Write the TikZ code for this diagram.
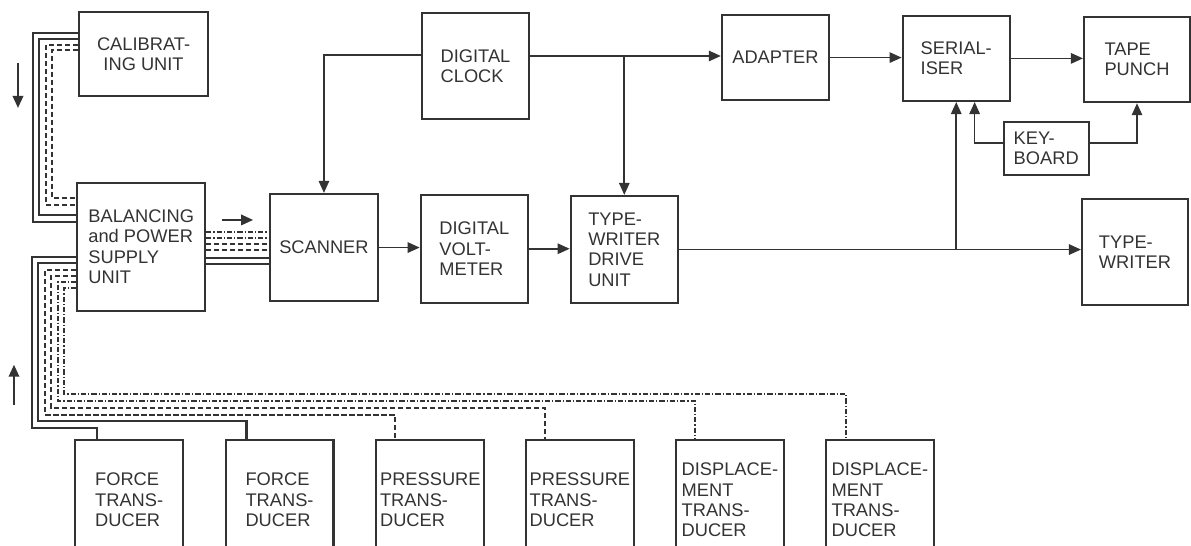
\documentclass[tikz,border=0pt]{standalone}
\usepackage{fontspec}
\setmainfont{Liberation Sans}
\usetikzlibrary{arrows.meta, calc}
\definecolor{ink}{HTML}{333333}

\begin{document}
\begin{tikzpicture}[
  >={Triangle[length=3mm, width=2.6mm]},
  blk/.style={draw=ink, line width=1.5pt, text=ink, align=left,
    font=\fontsize{13}{14.5}\selectfont, inner sep=2pt},
  arr/.style={->, line width=1.2pt, ink},
  solidbus/.style={line width=1.6pt, ink},
  dashbus/.style={line width=1.25pt, ink, dash pattern=on 1.3mm off 0.7mm},
  chainbus/.style={line width=1.25pt, ink, dash pattern=on 1.3mm off 0.5mm on 0.3mm off 0.5mm},
  hint/.style={->, line width=1.5pt, ink},
]

\useasboundingbox (0,0) rectangle (29.78,13.65);

% =============================================
% Measuring side
% =============================================
\node[blk, align=center, minimum width=3.23cm, minimum height=2.1cm] (calib) at (3.59,12.3)
  {CALIBRAT-\\ING UNIT};
\node[blk, minimum width=3.2cm, minimum height=3.2cm] (bal) at (3.53,7.48)
  {BALANCING\\and POWER\\SUPPLY\\UNIT};
\node[blk, minimum width=2.7cm, minimum height=2.68cm] (scan) at (8.1,7.46)
  {SCANNER};
\node[blk, minimum width=2.68cm, minimum height=2.7cm] (dvm) at (11.86,7.43)
  {DIGITAL\\VOLT-\\METER};
\node[blk, minimum width=2.68cm, minimum height=2.68cm] (twdu) at (15.61,7.41)
  {TYPE-\\WRITER\\DRIVE\\UNIT};
\node[blk, minimum width=2.68cm, minimum height=2.65cm] (clock) at (11.89,12.0)
  {DIGITAL\\CLOCK};

% =============================================
% Output side
% =============================================
\node[blk, minimum width=2.68cm, minimum height=2.13cm] (adapter) at (19.39,12.21)
  {ADAPTER};
\node[blk, minimum width=2.68cm, minimum height=2.13cm] (ser) at (23.91,12.19)
  {SERIAL-\\ISER};
\node[blk, minimum width=2.65cm, minimum height=2.13cm] (tape) at (28.43,12.16)
  {TAPE\\PUNCH};
\node[blk, minimum width=2.13cm, minimum height=1.33cm] (key) at (26.16,9.94)
  {KEY-\\BOARD};
\node[blk, minimum width=2.65cm, minimum height=2.65cm] (tw) at (28.38,7.35)
  {TYPE-\\WRITER};

% =============================================
% Transducers (cut off at the lower edge)
% =============================================
\node[blk, minimum width=2.7cm, minimum height=3cm] (fa) at (3.23,1.15)
  {FORCE\\TRANS-\\DUCER};
\node[blk, minimum width=2.7cm, minimum height=3cm] (fb) at (6.99,1.15)
  {FORCE\\TRANS-\\DUCER};
\node[blk, minimum width=2.7cm, minimum height=3cm] (pa) at (10.76,1.15)
  {PRESSURE\\TRANS-\\DUCER};
\node[blk, minimum width=2.7cm, minimum height=3cm] (pb) at (14.5,1.15)
  {PRESSURE\\TRANS-\\DUCER};
\node[blk, minimum width=2.7cm, minimum height=3cm] (da) at (18.25,1.15)
  {DISPLACE-\\MENT\\TRANS-\\DUCER};
\node[blk, minimum width=2.7cm, minimum height=3cm] (db) at (22.0,1.15)
  {DISPLACE-\\MENT\\TRANS-\\DUCER};

% =============================================
% Signal arrows
% =============================================
\coordinate (ckl) at ([yshift=0.28cm]clock.west);
\coordinate (ckr) at ([yshift=0.25cm]clock.east);
\draw[arr] (ckl) -| (scan.north);
\draw[arr] (ckr) -- (ckr -| adapter.west);
\draw[arr] (ckr -| twdu.north) -- (twdu.north);
\draw[arr] (adapter.east) -- (adapter.east -| ser.west);
\draw[arr] (ser.east) -- (ser.east -| tape.west);
\draw[arr] (scan.east) -- (scan.east -| dvm.west);
\draw[arr] (dvm.east) -- (dvm.east -| twdu.west);
\draw[arr] (twdu.east) -- (twdu.east -| tw.west);
\draw[arr] (twdu.east -| ser.south) -- (ser.south);
\draw[arr] ([yshift=0.14cm]key.west) -| ([xshift=0.46cm]ser.south);
\draw[arr] ([yshift=0.14cm]key.east) -| (tape.south);

% =============================================
% Cable bundles
% =============================================
% calibrating unit -> balancing unit
\draw[solidbus] (calib.west |- 0,12.83) -| (0.83,8.1) -- (bal.west |- 0,8.1);
\draw[solidbus] (calib.west |- 0,12.68) -| (0.98,8.28) -- (bal.west |- 0,8.28);
\draw[dashbus] (calib.west |- 0,12.53) -| (1.15,8.53) -- (bal.west |- 0,8.53);
\draw[dashbus] (calib.west |- 0,12.4) -| (1.3,8.7) -- (bal.west |- 0,8.7);

% transducers -> balancing unit
\draw[solidbus] (bal.west |- 0,7.23) -| (0.8,2.95) -| ([xshift=0.58cm]fa.north west);
\draw[solidbus] (bal.west |- 0,7.08) -| (0.95,3.13) -| ([xshift=0.55cm]fb.north west);
\draw[dashbus] (bal.west |- 0,6.9) -| (1.13,3.28) -| ([xshift=0.5cm]pa.north west);
\draw[dashbus] (bal.west |- 0,6.75) -| (1.28,3.45) -| ([xshift=0.5cm]pb.north west);
\draw[chainbus] (bal.west |- 0,6.6) -| (1.45,3.63) -| ([xshift=0.5cm]da.north west);
\draw[chainbus] (bal.west |- 0,6.45) -| (1.6,3.8) -| ([xshift=0.53cm]db.north west);

% balancing unit -> scanner
\draw[chainbus] (bal.east |- 0,7.85) -- (scan.west |- 0,7.85);
\draw[chainbus] (bal.east |- 0,7.7) -- (scan.west |- 0,7.7);
\draw[dashbus] (bal.east |- 0,7.55) -- (scan.west |- 0,7.55);
\draw[dashbus] (bal.east |- 0,7.4) -- (scan.west |- 0,7.4);
\draw[solidbus] (bal.east |- 0,7.2) -- (scan.west |- 0,7.2);
\draw[solidbus] (bal.east |- 0,7.05) -- (scan.west |- 0,7.05);

% direction marks
\draw[hint] (0.45,12.08) -- (0.45,10.95);
\draw[hint] (0.35,3.53) -- (0.35,4.53);
\draw[hint] (5.55,8.15) -- (6.33,8.15);

\end{tikzpicture}
\end{document}
